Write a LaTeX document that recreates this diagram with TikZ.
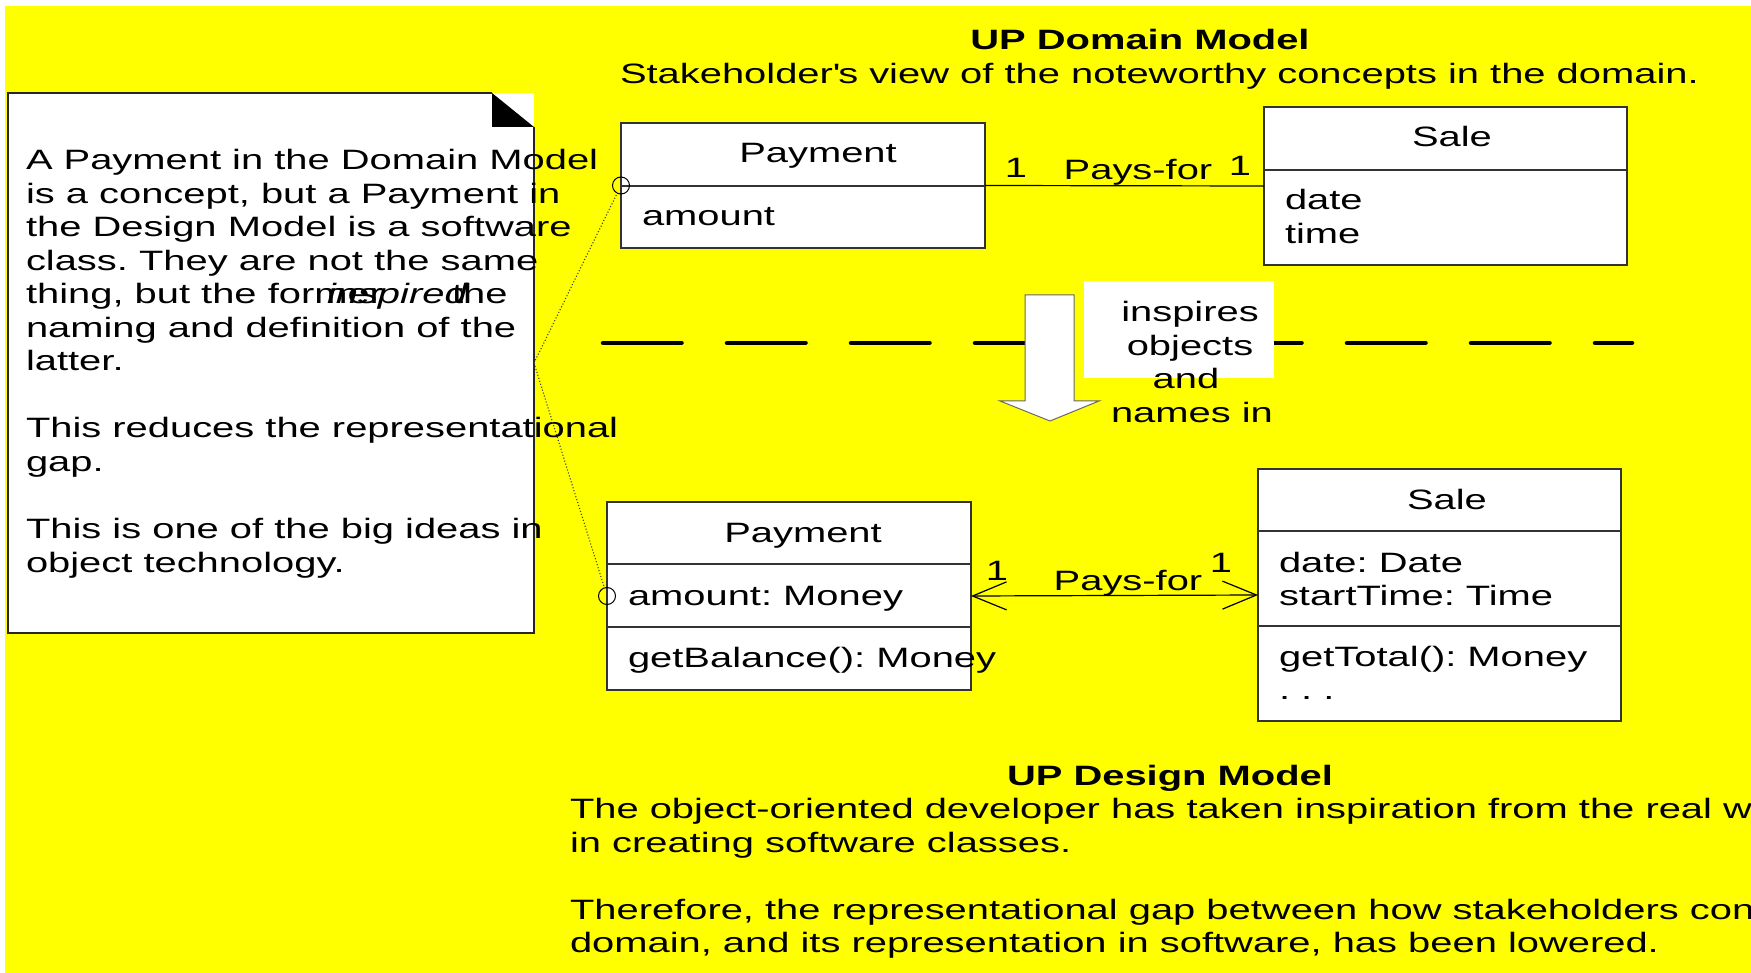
\documentclass[tikz,border=0pt]{standalone}
\usepackage{fontspec}
\setmainfont{Liberation Sans}[FakeStretch=1.425]
\usetikzlibrary{arrows.meta}
\definecolor{bgyellow}{HTML}{FFFF00}
\frenchspacing
% straight apostrophe glyph, untouched by the TeX ligature mapping
\newcommand{\straightquote}{\XeTeXglyph\XeTeXglyphindex "quotesingle"\relax}
\begin{document}
\begin{tikzpicture}[x=1pt,y=-1pt,
  every node/.style={inner sep=0pt, outer sep=0pt, font=\fontsize{28}{33.5}\selectfont},
  txt/.style={anchor=base west},
  ctxt/.style={anchor=base},
  ttl/.style={anchor=base, font=\fontsize{28}{33.5}\selectfont\bfseries},
  classbox/.style={draw=black!80, line width=1.3pt, fill=white, anchor=north west},
  compart/.style={draw=black!80, line width=1.3pt},
  assoc/.style={draw=black, line width=1.2pt},
  nav/.style={assoc, {Straight Barb[length=34pt,width=28pt,line width=1.2pt]}-{Straight Barb[length=34pt,width=28pt,line width=1.2pt]}},
  port/.style={circle, draw=black, line width=1pt, minimum size=17pt, fill=none},
  anchorline/.style={draw=black!75, line width=1.1pt, dotted},
]
\useasboundingbox (0,0) rectangle (1751,973);
\clip (0,0) rectangle (1751,973);
\fill[white] (0,0) rectangle (1751,973);
\fill[bgyellow] (5,6) rectangle (1751,973);

% layer separator between the two models
\draw[line width=4.5pt, line cap=round, dash pattern=on 78.5pt off 45.5pt] (603,343) -- (1632,343);

% hollow block arrow pointing down
\draw[draw=black!60, line width=1pt, fill=white]
  (1025,295) -- (1074,295) -- (1074,401) -- (1099,401) -- (1050,421)
  -- (1000,401) -- (1025,401) -- cycle;

% label of the block arrow
\fill[white] (1084,281) rectangle (1274,378);
\node[ctxt] (ins1) at (1190,321.7) {inspires};
\node[ctxt] (ins2) at (1190,355.2) {objects};
\node[ctxt] (ins3) at (1186,388.7) {and};
\node[ctxt] (ins4) at (1192,422.2) {names in};

% note with folded corner
\node[fill=white, minimum width=526pt, minimum height=540pt, anchor=north west] (note) at (8,93) {};
\draw[draw=black!85, line width=1.5pt] (492,93) -- (8,93) -- (8,633) -- (534,633) -- (534,127);
\fill[black] (492,93) -- (492,127) -- (534,127) -- cycle;
\coordinate (notept) at (534,363);

\node[txt] (n1) at (26,170) {A Payment in the Domain Model};
\node[txt] (n2) at (26,203.5) {is a concept, but a Payment in};
\node[txt] (n3) at (26,237) {the Design Model is a software};
\node[txt] (n4) at (26,270.5) {class. They are not the same};
\node[txt] (n5) at (26,304) {thing, but the former};
\node[txt] (n5b) at (327,304) {\itshape inspired};
\node[txt] (n5c) at (452,304) {the};
\node[txt] (n6) at (26,337.5) {naming and definition of the};
\node[txt] (n7) at (26,371) {latter.};
\node[txt] (n8) at (26,438) {This reduces the representational};
\node[txt] (n9) at (26,471.5) {gap.};
\node[txt] (n10) at (26,538.5) {This is one of the big ideas in};
\node[txt] (n11) at (26,572) {object technology.};

% domain model
\node[ttl] (dtitle) at (1140,50) {UP Domain Model};
\node[txt] (dsub) at (620,83.5) {Stakeholder\straightquote s view of the noteworthy concepts in the domain.};

\node[classbox, minimum width=364pt, minimum height=125pt] (payD) at (621,123) {};
\draw[compart] (payD.west |- 0,186) -- (payD.east |- 0,186);
\node[ctxt] (payDname) at (818,163) {Payment};
\node[txt] (payDattr) at (642,226) {amount};

\node[classbox, minimum width=363pt, minimum height=158pt] (saleD) at (1264,107) {};
\draw[compart] (saleD.west |- 0,170) -- (saleD.east |- 0,170);
\node[ctxt] (saleDname) at (1452,147) {Sale};
\node[txt] (saleDa1) at (1285,210) {date};
\node[txt] (saleDa2) at (1285,243.5) {time};

\draw[assoc] (payD.east) -- (saleD.west);
\node[ctxt] (dm1) at (1016,178) {1};
\node[ctxt] (dlab) at (1138,180) {Pays-for};
\node[ctxt] (dm2) at (1240,176) {1};

% design model
\node[classbox, minimum width=364pt, minimum height=188pt] (payC) at (607,502) {};
\draw[compart] (payC.west |- 0,564) -- (payC.east |- 0,564);
\draw[compart] (payC.west |- 0,627) -- (payC.east |- 0,627);
\node[ctxt] (payCname) at (803,542) {Payment};
\node[txt] (payCattr) at (628,605) {amount: Money};
\node[txt] (payCop) at (628,667) {getBalance(): Money};

\node[classbox, minimum width=363pt, minimum height=252pt] (saleC) at (1258,469) {};
\draw[compart] (saleC.west |- 0,531) -- (saleC.east |- 0,531);
\draw[compart] (saleC.west |- 0,626) -- (saleC.east |- 0,626);
\node[ctxt] (saleCname) at (1447,509) {Sale};
\node[txt] (saleCa1) at (1279,572) {date: Date};
\node[txt] (saleCa2) at (1279,605.5) {startTime: Time};
\node[txt] (saleCop1) at (1279,666) {getTotal(): Money};
\node[txt] (saleCop2) at (1279,699.5) {.\ .\ .};

\draw[nav] (payC.east) -- (saleC.west);
\node[ctxt] (cm1) at (997,580) {1};
\node[ctxt] (clab) at (1128,590) {Pays-for};
\node[ctxt] (cm2) at (1221,572) {1};

% attachments of the note
\node[port] (p1) at (payD.west) {};
\node[port] (p2) at (payC.west) {};
\draw[anchorline] (notept) -- (p1);
\draw[anchorline] (notept) -- (p2);

% design model caption
\node[ttl] (ctitle) at (1170,785) {UP Design Model};
\node[txt] (c1) at (570,818.5) {The object-oriented developer has taken inspiration from the real world domain};
\node[txt] (c2) at (570,852) {in creating software classes.};
\node[txt] (c3) at (570,919) {Therefore, the representational gap between how stakeholders conceive the};
\node[txt] (c4) at (570,952.5) {domain, and its representation in software, has been lowered.};
\end{tikzpicture}
\end{document}
